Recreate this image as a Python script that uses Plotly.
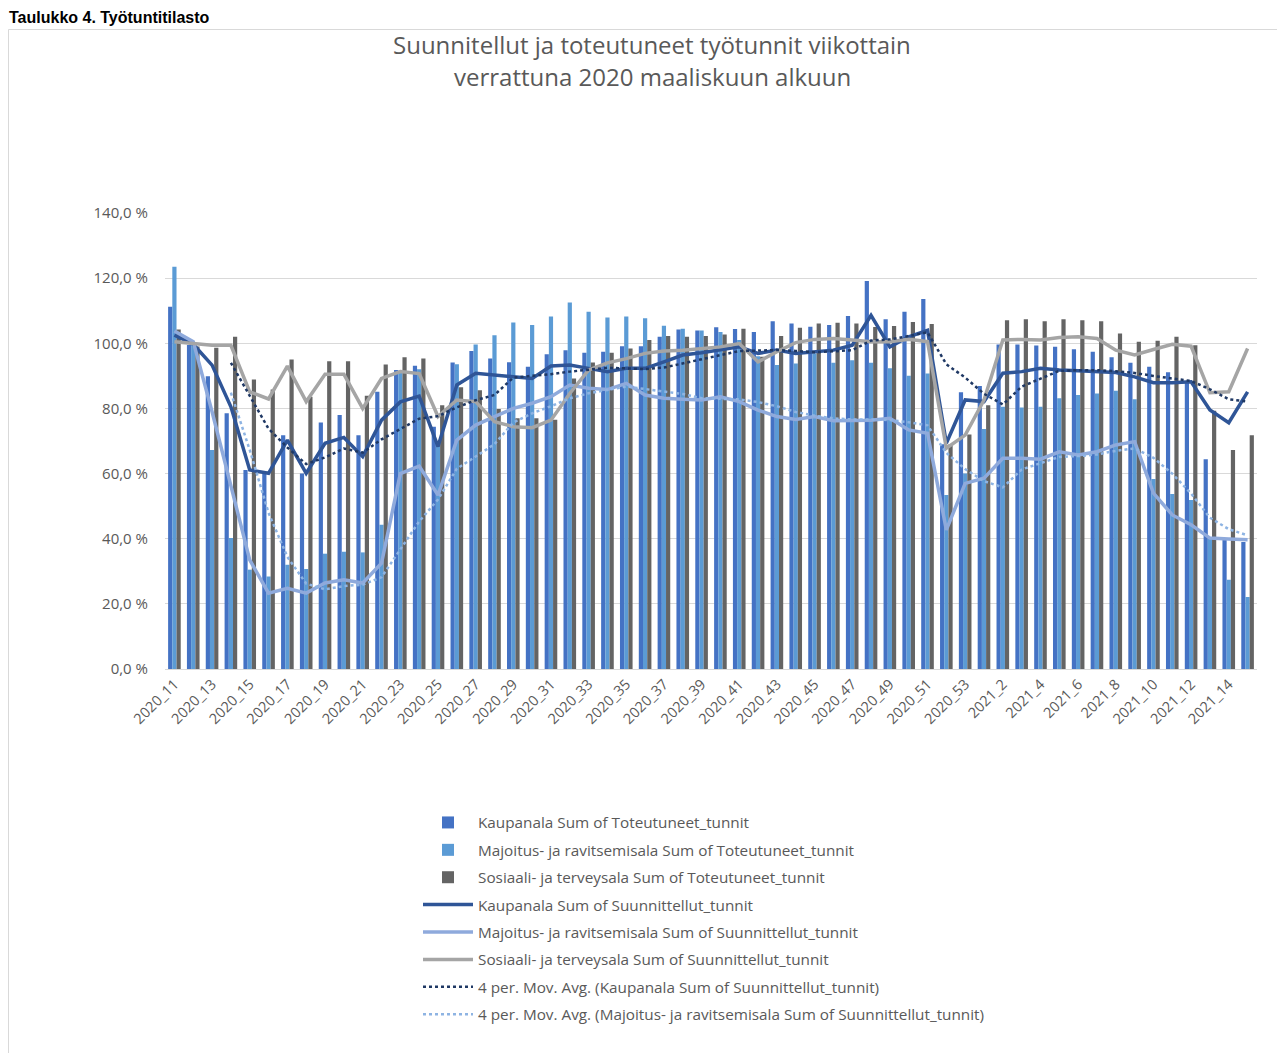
import plotly.graph_objects as go
import pandas as pd

weeks = ["2020_%d" % w for w in range(11, 54)] + ["2021_%d" % w for w in range(1, 16)]

kaup_tot = [111.2, 99.5, 89.9, 78.5, 61.1, 60.0, 71.8, 60.0, 75.7, 78.0,
            71.8, 85.1, 91.8, 93.1, 74.4, 94.1, 97.6, 95.3, 94.2, 92.8,
            96.6, 97.9, 97.1, 97.4, 99.1, 99.1, 102.0, 104.2, 103.9, 104.9,
            104.4, 103.5, 106.8, 106.1, 105.1, 105.6, 108.4, 119.1, 107.4, 109.7,
            113.6, 69.0, 85.0, 86.9, 99.6, 99.6, 99.3, 98.9, 98.2, 97.4,
            95.7, 94.0, 92.8, 91.1, 88.0, 64.4, 39.7, 39.0]
majo_tot = [123.5, 100.2, 67.2, 40.2, 30.5, 28.4, 32.0, 30.7, 35.4, 36.0,
            35.8, 44.3, 91.6, 92.0, 70.0, 93.6, 99.6, 102.5, 106.4, 105.6,
            108.2, 112.5, 109.7, 107.9, 108.2, 107.7, 105.4, 104.5, 103.9, 103.5,
            101.0, 96.0, 93.3, 93.8, 96.9, 94.0, 94.8, 94.0, 92.3, 90.0,
            90.7, 53.4, 60.0, 73.7, 80.5, 80.3, 80.5, 83.1, 84.1, 84.6,
            85.4, 82.8, 58.3, 53.7, 51.9, 40.0, 27.4, 22.1]
sosi_tot = [104.2, 99.0, 98.6, 102.0, 88.9, 85.8, 95.0, 83.6, 94.5, 94.5,
            83.9, 93.5, 95.7, 95.3, 81.0, 86.5, 85.6, 79.8, 77.0, 77.0,
            76.5, 89.2, 94.1, 97.1, 98.4, 101.0, 102.2, 102.0, 102.2, 102.7,
            104.5, 95.9, 102.2, 104.8, 106.1, 106.3, 106.1, 105.0, 105.3, 106.5,
            105.9, 69.0, 72.0, 81.0, 107.1, 107.4, 106.8, 107.4, 107.1, 106.8,
            103.0, 100.5, 100.8, 102.0, 99.4, 79.3, 67.2, 71.8]

kaup_suu = [102.5, 99.7, 93.3, 80.5, 61.1, 60.1, 70.3, 60.1, 69.3, 71.1,
            65.2, 76.4, 82.0, 83.8, 68.3, 87.2, 90.8, 90.2, 89.7, 89.2,
            93.0, 93.3, 92.3, 91.3, 92.3, 92.3, 94.3, 96.4, 97.1, 98.1,
            98.9, 96.9, 97.9, 96.9, 97.4, 97.9, 99.4, 108.6, 98.9, 102.0,
            104.0, 69.3, 82.6, 82.1, 90.8, 91.3, 92.3, 91.8, 91.6, 91.3,
            91.0, 89.7, 87.9, 87.9, 88.2, 79.5, 75.6, 85.1]
majo_suu = [103.8, 100.5, 79.0, 56.0, 33.5, 23.3, 24.8, 23.3, 26.4, 27.4,
            26.4, 32.5, 60.0, 62.3, 53.4, 70.3, 74.9, 77.5, 80.0, 81.6,
            83.6, 87.2, 86.2, 85.8, 87.7, 84.1, 83.1, 82.8, 82.6, 83.6,
            82.1, 79.5, 77.5, 76.6, 77.5, 76.2, 76.2, 76.4, 77.0, 73.4,
            72.4, 42.7, 57.0, 58.6, 64.7, 64.7, 64.4, 66.7, 65.7, 66.7,
            68.8, 69.8, 54.0, 47.3, 44.3, 40.2, 39.9, 39.7]
sosi_suu = [100.5, 100.0, 99.4, 99.4, 85.1, 82.9, 93.0, 82.1, 90.5, 90.5,
            80.0, 89.2, 91.3, 90.7, 77.5, 82.6, 82.1, 75.9, 74.4, 74.1,
            76.4, 84.6, 91.8, 94.0, 95.3, 96.9, 97.6, 97.9, 98.4, 98.9,
            99.9, 94.3, 97.4, 100.2, 101.2, 101.5, 101.0, 100.5, 100.5, 101.2,
            100.5, 67.8, 71.8, 82.6, 101.0, 101.2, 101.0, 101.8, 102.0, 101.5,
            97.9, 96.4, 98.1, 99.7, 99.1, 84.8, 85.1, 98.4]

tick_labels = weeks[::2]

title_lines = ["Suunnitellut ja toteutuneet työtunnit viikottain",
               "verrattuna 2020 maaliskuun alkuun"]
header_text = "Taulukko 4. Työtuntitilasto"

names = ["Kaupanala Sum of Toteutuneet_tunnit",
         "Majoitus- ja ravitsemisala Sum of Toteutuneet_tunnit",
         "Sosiaali- ja terveysala Sum of Toteutuneet_tunnit",
         "Kaupanala Sum of Suunnittellut_tunnit",
         "Majoitus- ja ravitsemisala Sum of Suunnittellut_tunnit",
         "Sosiaali- ja terveysala Sum of Suunnittellut_tunnit",
         "4 per. Mov. Avg. (Kaupanala Sum of Suunnittellut_tunnit)",
         "4 per. Mov. Avg. (Majoitus- ja ravitsemisala Sum of Suunnittellut_tunnit)"]

kaup_ma = pd.Series(kaup_suu).rolling(4).mean().tolist()
majo_ma = pd.Series(majo_suu).rolling(4).mean().tolist()

# page body has an 8 px margin; geometry below is in page (photo) pixels
OFF = 8
W, H = 1285 - OFF, 1053 - OFF
L, T = 165 - OFF, 213 - OFF
R = W - (1257 - OFF)
B = H - (669 - OFF)
PW, PH = W - L - R, H - T - B


def px_x(x):
    return (x - OFF - L) / PW


def px_y(y):
    return (H - B - (y - OFF)) / PH


fig = go.Figure()
bar_colors = ["#4472C4", "#5B9BD5", "#646464"]
for i, (vals, col) in enumerate(zip([kaup_tot, majo_tot, sosi_tot], bar_colors)):
    fig.add_trace(go.Bar(x=weeks, y=vals, name=names[i], marker_color=col,
                         marker_line_width=0, legendgroup="g%d" % i))

line_colors = ["#2F5597", "#8FAADC", "#A5A5A5"]
for j, (vals, col) in enumerate(zip([kaup_suu, majo_suu, sosi_suu], line_colors)):
    fig.add_trace(go.Scatter(x=weeks, y=vals, name=names[3 + j], mode="lines",
                             line=dict(color=col, width=3.5),
                             legendgroup="g%d" % (3 + j)))

fig.add_trace(go.Scatter(x=weeks, y=kaup_ma, name=names[6], mode="lines",
                         line=dict(color="#1F3864", width=2.5, dash="dot"),
                         legendgroup="g6"))
fig.add_trace(go.Scatter(x=weeks, y=majo_ma, name=names[7], mode="lines",
                         line=dict(color="#8EB4E3", width=2.5, dash="dot"),
                         legendgroup="g7"))

annotations = [
    dict(text=title_lines[0], x=px_x(652), y=px_y(45), xref="paper", yref="paper",
         xanchor="center", yanchor="middle", showarrow=False,
         font=dict(family="Open Sans", size=24, color="#595959")),
    dict(text=title_lines[1], x=px_x(652), y=px_y(77), xref="paper", yref="paper",
         xanchor="center", yanchor="middle", showarrow=False,
         font=dict(family="Open Sans", size=24, color="#595959")),
    dict(text="<b>" + header_text + "</b>", x=px_x(8), y=px_y(8), xref="paper", yref="paper",
         xanchor="left", yanchor="top", showarrow=False, borderpad=0,
         font=dict(family="Liberation Sans", size=16, color="#000000")),
]

shapes = [
    dict(type="rect", xref="paper", yref="paper", x0=px_x(8.5), x1=px_x(1300),
         y0=px_y(1060), y1=px_y(29.5), line=dict(color="#D9D9D9", width=1),
         fillcolor="rgba(0,0,0,0)", layer="below"),
]

fig.update_layout(
    width=W, height=H,
    margin=dict(l=L, r=R, t=T, b=B, pad=0),
    paper_bgcolor="white", plot_bgcolor="white",
    font=dict(family="Open Sans", color="#595959"),
    barmode="group", bargap=0.33, bargroupgap=0,
    separators=", ",
    showlegend=True,
    legend=dict(x=px_x(418), y=px_y(806), xanchor="left", yanchor="top",
                orientation="v", font=dict(size=15.3, color="#595959"),
                tracegroupgap=4.5, itemwidth=50, bgcolor="rgba(0,0,0,0)"),
    annotations=annotations,
    shapes=shapes,
)

fig.update_yaxes(range=[0, 140], dtick=20, tickformat=".1f", ticksuffix=" %",
                 gridcolor="#D9D9D9", gridwidth=1, zeroline=False, showline=False,
                 tickfont=dict(size=15, color="#595959"), ticklabelstandoff=16)
fig.update_xaxes(type="category", tickmode="array", tickvals=tick_labels, ticktext=tick_labels,
                 tickangle=-45, showline=True, linecolor="#D9D9D9", linewidth=1,
                 showgrid=False, tickfont=dict(size=14.5, color="#595959"), ticks="")

fig.write_html("out.html")
